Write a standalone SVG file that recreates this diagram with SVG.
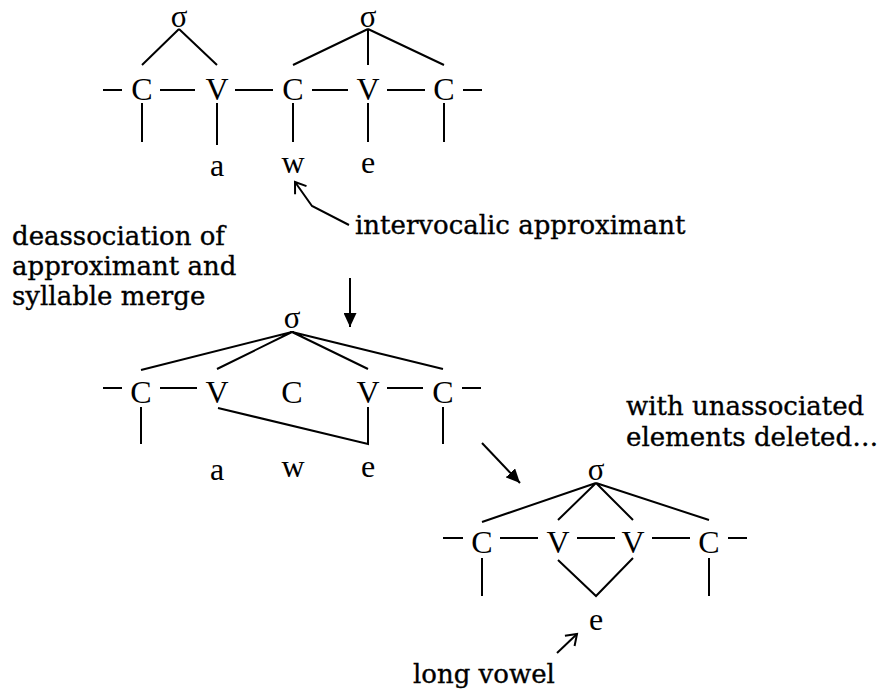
<svg xmlns="http://www.w3.org/2000/svg" width="890" height="691" viewBox="0 0 890 691">
<style>
.n{font-family:"Liberation Serif","Times New Roman",serif;font-size:32px;fill:#000;text-anchor:middle}
.s{font-family:"Liberation Serif","Times New Roman",serif;font-size:31px;fill:#000;text-anchor:middle}
.lbl{font-family:"DejaVu Serif",serif;font-size:26px;fill:#000;stroke:#000;stroke-width:0.35}
.ln{stroke:#000;stroke-width:2;fill:none;stroke-linecap:butt}
</style>
<defs>
<marker id="filled" markerUnits="userSpaceOnUse" markerWidth="15" markerHeight="13" refX="14" refY="6.5" orient="auto"><path d="M0,0 L14,6.5 L0,13 z" fill="#000"/></marker>
<marker id="open" markerUnits="userSpaceOnUse" markerWidth="14" markerHeight="16" refX="11" refY="7" orient="auto" overflow="visible"><path d="M1,0 L11,7 L1,14" fill="none" stroke="#000" stroke-width="2"/></marker>
</defs>
<rect width="890" height="691" fill="#fff"/>

<!-- Top diagram -->
<g id="top-sigma1"><text class="s" x="179" y="27">σ</text></g>
<g id="top-sigma2"><text class="s" x="368" y="27">σ</text></g>
<g id="top-C1"><text class="n" x="142" y="100">C</text></g>
<g id="top-V1"><text class="n" x="217" y="100">V</text></g>
<g id="top-C2"><text class="n" x="293" y="100">C</text></g>
<g id="top-V2"><text class="n" x="368" y="100">V</text></g>
<g id="top-C3"><text class="n" x="444" y="100">C</text></g>
<g id="top-a"><text class="n" x="217" y="176">a</text></g>
<g id="top-w"><text class="n" x="293" y="173">w</text></g>
<g id="top-e"><text class="n" x="368" y="173">e</text></g>

<!-- Middle diagram -->
<g id="mid-sigma"><text class="s" x="292" y="328">σ</text></g>
<g id="mid-C1"><text class="n" x="141" y="403">C</text></g>
<g id="mid-V1"><text class="n" x="217" y="403">V</text></g>
<g id="mid-C2"><text class="n" x="292" y="403">C</text></g>
<g id="mid-V2"><text class="n" x="368" y="403">V</text></g>
<g id="mid-C3"><text class="n" x="443" y="403">C</text></g>
<g id="mid-a"><text class="n" x="217" y="480">a</text></g>
<g id="mid-w"><text class="n" x="293" y="477">w</text></g>
<g id="mid-e"><text class="n" x="368" y="477">e</text></g>

<!-- Bottom diagram -->
<g id="bot-sigma"><text class="s" x="596" y="480">σ</text></g>
<g id="bot-C1"><text class="n" x="482" y="553">C</text></g>
<g id="bot-V1"><text class="n" x="558" y="553">V</text></g>
<g id="bot-V2"><text class="n" x="633" y="553">V</text></g>
<g id="bot-C2"><text class="n" x="709" y="553">C</text></g>
<g id="bot-e"><text class="n" x="596" y="630">e</text></g>

<!-- Labels -->
<g id="label-intervocalic"><text class="lbl" x="355" y="234">intervocalic approximant</text></g>
<g id="label-deassociation"><text class="lbl" x="12" y="245">deassociation of</text><text class="lbl" x="12" y="275">approximant and</text><text class="lbl" x="12" y="305">syllable merge</text></g>
<g id="label-deleted"><text class="lbl" x="626" y="415">with unassociated</text><text class="lbl" x="626" y="446">elements deleted…</text></g>
<g id="label-long"><text class="lbl" x="413" y="683">long vowel</text></g>

<g id="connectors">
<!-- top -->
<path class="ln" d="M179,29 L142,65 M179,29 L217,65"/>
<path class="ln" d="M368,29 L293,65 M368,29 L368,65 M368,29 L444,65"/>
<path class="ln" d="M103,90 H122 M160,90 H195 M235,90 H273 M312,90 H348 M387,90 H425 M463,90 H482"/>
<path class="ln" d="M142,103 V142 M217,103 V145 M293,103 V142 M368,103 V142 M444,103 V142"/>
<polyline class="ln" points="349,225 312,206 295,182" marker-end="url(#open)"/>
<line class="ln" x1="350" y1="278" x2="350" y2="327" marker-end="url(#filled)"/>
<!-- middle -->
<path class="ln" d="M292,332 L141,370 M292,332 L217,369 M292,332 L368,369 M292,332 L443,369"/>
<path class="ln" d="M103,388 H122 M160,388 H197 M387,388 H423 M462,388 H481"/>
<path class="ln" d="M141,407 V444 M443,407 V444 M218,408 L368,444 V407"/>
<line class="ln" x1="482" y1="443" x2="520" y2="483" marker-end="url(#filled)"/>
<!-- bottom -->
<path class="ln" d="M596,483 L482,522 M596,483 L558,520 M596,483 L633,520 M596,483 L709,520"/>
<path class="ln" d="M443,538 H463 M500,538 H538 M577,538 H615 M652,538 H690 M728,538 H747"/>
<path class="ln" d="M482,558 V596 M709,558 V596 M558,560 L596,596 L633,558"/>
<line class="ln" x1="557" y1="653" x2="577" y2="634" marker-end="url(#open)"/>
</g>
</svg>
